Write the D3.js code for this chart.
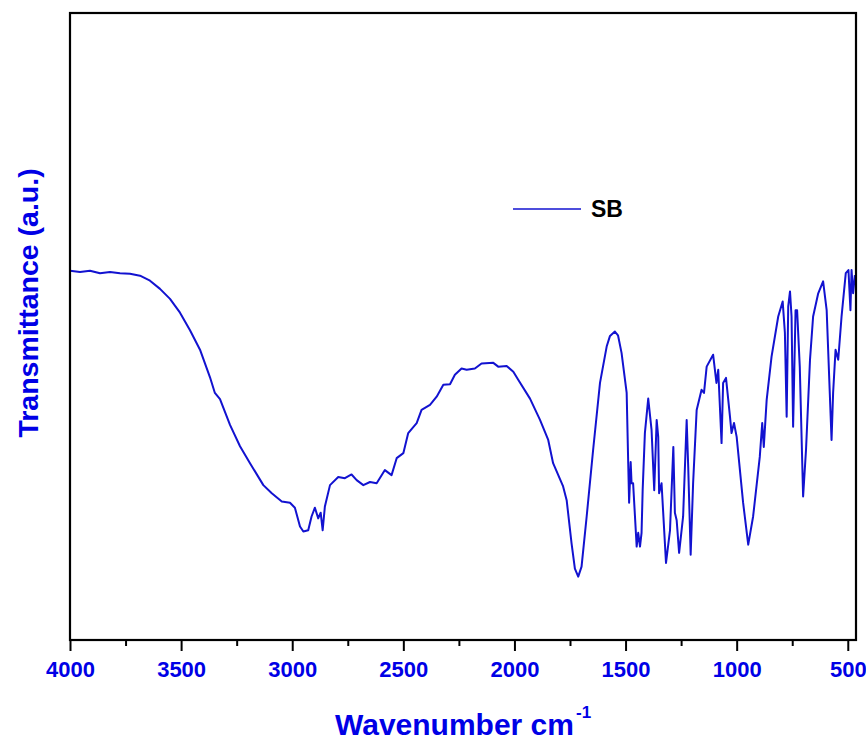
<!DOCTYPE html>
<html><head><meta charset="utf-8">
<script src="https://cdn.jsdelivr.net/npm/d3@7/dist/d3.min.js"></script>
<style>body{margin:0;background:#fff}</style>
</head><body>
<svg id="c" width="866" height="740"></svg>
<script>
// Wavenumber (cm^-1) and transmittance (a.u.)
const wavenumber = [4000,3955,3910,3865,3820,3775,3730,3685,3640,3595,3550,3505,3460,3415,3370,3348,3325,3280,3235,3190,3130,3092,3047,3010,2988,2965,2950,2928,2913,2898,2883,2872,2863,2853,2830,2793,2763,2733,2710,2680,2650,2620,2583,2553,2530,2500,2478,2440,2418,2380,2350,2320,2290,2268,2238,2215,2178,2148,2095,2073,2035,2005,1983,1930,1885,1848,1826,1781,1765,1743,1728,1713,1698,1675,1646,1615,1585,1570,1548,1534,1518,1495,1488,1484,1477,1473,1466,1450,1443,1435,1428,1423,1413,1398,1383,1371,1360,1353,1349,1338,1318,1300,1285,1278,1270,1259,1241,1225,1218,1207,1196,1180,1158,1147,1135,1106,1091,1083,1068,1061,1048,1030,1023,1012,1000,971,948,926,896,885,878,865,843,813,793,783,775,768,760,753,746,735,728,716,701,688,670,656,633,611,595,581,573,566,555,543,528,509,497,488,483,476,468];
const transmittance = [58.9,58.7,58.9,58.5,58.7,58.5,58.4,58.1,57.3,56.0,54.4,52.2,49.4,46.3,41.9,39.4,38.4,34.3,30.9,28.2,24.7,23.4,22.1,21.9,21.1,18.1,17.3,17.5,19.7,21.1,19.4,20.3,17.5,21.3,24.7,26.0,25.8,26.4,25.5,24.7,25.2,25.0,27.1,26.3,29.0,29.8,33.0,34.6,36.7,37.5,38.8,40.7,40.8,42.3,43.3,43.1,43.3,44.1,44.2,43.6,43.7,42.8,41.5,38.5,35.1,31.9,28.2,24.5,22.3,15.4,11.4,10.1,11.7,19.7,30.3,41.0,46.8,48.5,49.2,48.6,45.8,39.4,28.2,21.9,28.4,25.0,25.0,14.9,17.1,14.9,17.1,23.9,33.0,38.5,33.5,23.9,35.1,32.4,23.4,25.0,12.3,17.5,30.8,20.3,19.1,13.9,19.7,35.1,27.6,13.6,25.0,36.7,39.9,39.4,43.6,45.5,41.0,43.1,31.4,41.0,41.8,35.6,33.0,34.6,32.4,21.9,15.2,19.7,29.2,34.6,30.8,38.3,45.2,51.6,54.0,49.0,35.6,53.2,55.6,51.6,34.0,52.6,52.6,43.6,22.9,30.3,44.7,51.6,55.3,57.2,52.6,39.4,31.9,39.4,46.3,44.7,51.6,58.5,59.0,52.6,59.0,55.3,58.2];
const xMajorTicks = [4000,3500,3000,2500,2000,1500,1000,500];
const xMinorTicks = [3750,3250,2750,2250,1750,1250,750];
const seriesName = "SB";
const xTitle = "Wavenumber cm";
const yTitle = "Transmittance (a.u.)";

const svg = d3.select("#c");
const L = 70, R = 856, T = 13, B = 640;
const blue = "#0000e6", lineBlue = "#1212d0";

const x = d3.scaleLinear().domain([4000, 463]).range([L, R]);
const y = d3.scaleLinear().domain([0, 100]).range([B, T]);

const data = wavenumber.map((w, i) => ({w, t: transmittance[i]}));

svg.append("defs").append("clipPath").attr("id","clip")
  .append("rect").attr("x",L).attr("y",T).attr("width",R-L).attr("height",B-T);

svg.append("path").datum(data)
  .attr("clip-path","url(#clip)")
  .attr("fill","none").attr("stroke",lineBlue).attr("stroke-width",2)
  .attr("stroke-linejoin","round")
  .attr("d", d3.line().x(d => x(d.w)).y(d => y(d.t)));

// frame
svg.append("rect").attr("x",L).attr("y",T).attr("width",R-L).attr("height",B-T)
  .attr("fill","none").attr("stroke","#000").attr("stroke-width",2.2);

// bottom axis
const ax = svg.append("g").attr("transform",`translate(0,${B})`)
  .call(d3.axisBottom(x).tickValues(xMajorTicks).tickSize(11).tickSizeOuter(0).tickPadding(10).tickFormat(d3.format("d")));
ax.select(".domain").remove();
ax.selectAll("line").attr("stroke","#000").attr("stroke-width",2);
ax.selectAll("text").attr("fill",blue).attr("font-family","Liberation Sans, Arial, sans-serif")
  .attr("font-weight","bold").attr("font-size","22px");
const axm = svg.append("g").attr("transform",`translate(0,${B})`)
  .call(d3.axisBottom(x).tickValues(xMinorTicks).tickSize(6).tickSizeOuter(0).tickFormat(""));
axm.select(".domain").remove();
axm.selectAll("line").attr("stroke","#000").attr("stroke-width",2);

// axis titles
const xt = svg.append("text").attr("x",335).attr("y",735)
  .attr("fill",blue).attr("font-family","Liberation Sans, Arial, sans-serif")
  .attr("font-weight","bold").attr("font-size","30px");
xt.append("tspan").text(xTitle);
xt.append("tspan").attr("font-size","17px").attr("dy","-17").attr("dx","2").text("-1");

svg.append("text").attr("transform","translate(38,303) rotate(-90)")
  .attr("text-anchor","middle").attr("fill",blue)
  .attr("font-family","Liberation Sans, Arial, sans-serif")
  .attr("font-weight","bold").attr("font-size","28.5px").text(yTitle);

// legend
svg.append("line").attr("x1",513).attr("x2",581).attr("y1",209).attr("y2",209)
  .attr("stroke",lineBlue).attr("stroke-width",1.7);
svg.append("text").attr("x",591).attr("y",217).attr("fill","#000")
  .attr("font-family","Liberation Sans, Arial, sans-serif")
  .attr("font-weight","bold").attr("font-size","23px").text(seriesName);
</script>
</body></html>
